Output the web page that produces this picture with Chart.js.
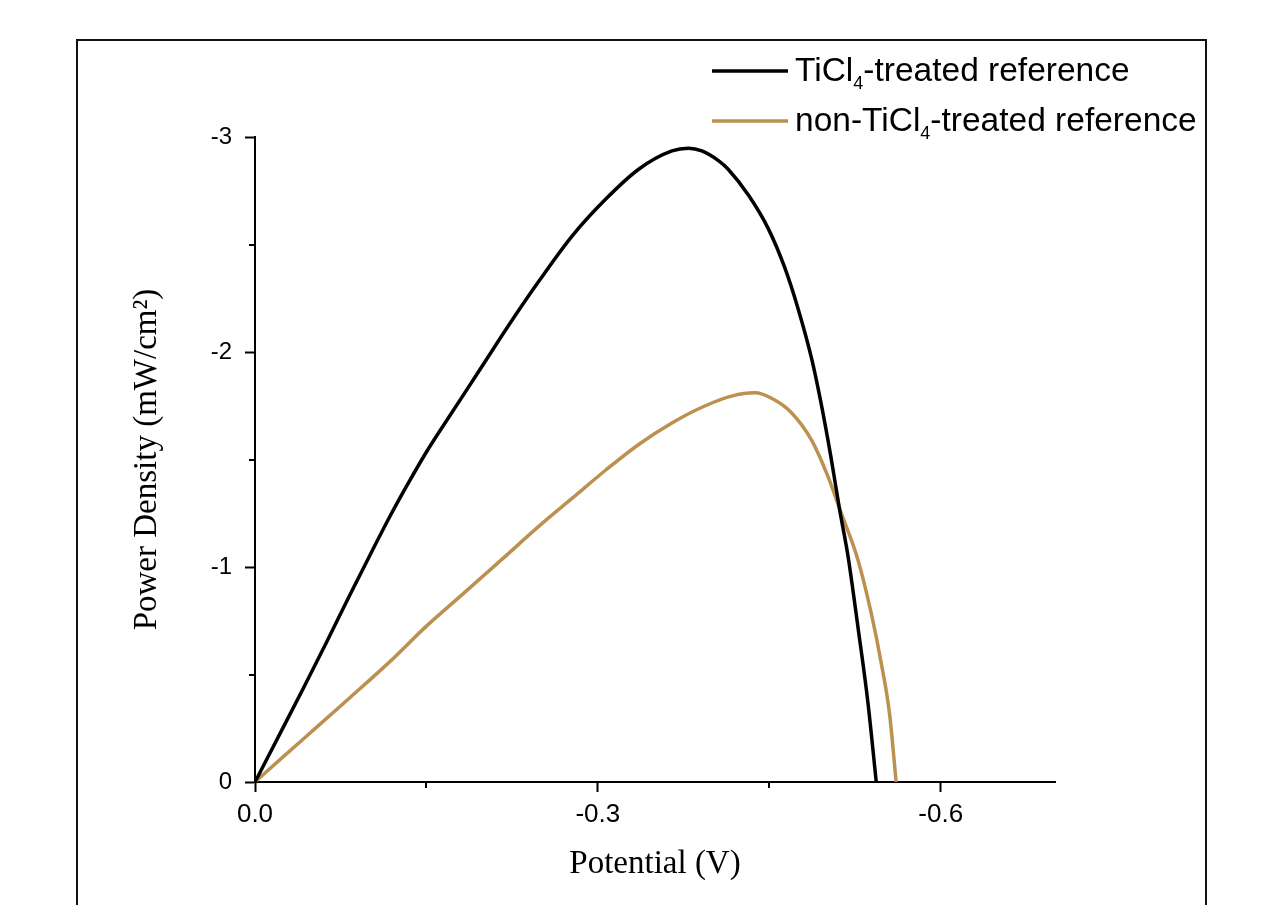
<!DOCTYPE html>
<html>
<head>
<meta charset="utf-8">
<title>Power density vs potential</title>
<script src="https://cdn.jsdelivr.net/npm/chart.js@4/dist/chart.umd.min.js"></script>
<style>
  html, body { margin: 0; padding: 0; background: #fff; }
  #wrap { width: 1263px; height: 905px; }
</style>
</head>
<body>
<div id="wrap"><canvas id="powerChart" width="1263" height="905"></canvas></div>
<script>
// Power density curves
const treatedV = [0, -0.0248, -0.0422, -0.0626, -0.083, -0.102, -0.118, -0.1325, -0.150, -0.170, -0.194, -0.211, -0.229, -0.2485, -0.2776, -0.3067, -0.3357, -0.3648, -0.3793, -0.391, -0.4055, -0.414, -0.4317, -0.449, -0.4637, -0.475, -0.487, -0.495, -0.504, -0.5116, -0.5189, -0.5276, -0.5363, -0.5436];
const treatedP = [0, -0.255, -0.435, -0.65, -0.87, -1.07, -1.235, -1.375, -1.535, -1.70, -1.895, -2.035, -2.18, -2.33, -2.54, -2.71, -2.85, -2.935, -2.948, -2.935, -2.89, -2.85, -2.73, -2.575, -2.39, -2.205, -1.97, -1.77, -1.51, -1.265, -1.05, -0.72, -0.37, 0];

const untreatedV = [0, -0.0248, -0.054, -0.083, -0.118, -0.150, -0.182, -0.217, -0.2485, -0.2776, -0.3067, -0.3357, -0.3648, -0.394, -0.417, -0.4375, -0.452, -0.469, -0.487, -0.5014, -0.5116, -0.5276, -0.5392, -0.548, -0.5552, -0.561];
const untreatedP = [0, -0.118, -0.255, -0.392, -0.56, -0.725, -0.875, -1.04, -1.19, -1.32, -1.45, -1.57, -1.67, -1.75, -1.795, -1.81, -1.785, -1.72, -1.59, -1.42, -1.27, -1.033, -0.785, -0.552, -0.319, 0];

const xMajor = [0, -0.3, -0.6];
const xMinor = [-0.15, -0.45];
const yMajor = [0, -1, -2, -3];
const yMinor = [-0.5, -1.5, -2.5];

const seriesNames = [['TiCl', '4', '-treated reference'], ['non-TiCl', '4', '-treated reference']];
const seriesColors = ['#000000', '#BC9150'];

function toPoints(xs, ys) {
  return xs.map((x, i) => ({ x: x, y: ys[i] }));
}

const sansFont = '"Liberation Sans", Arial, sans-serif';
const serifFont = '"Liberation Serif", "Times New Roman", serif';

// outer frame, minor ticks and the legend with subscripts
const extras = {
  id: 'extras',
  afterDraw(chart) {
    const ctx = chart.ctx;
    const xs = chart.scales.x, ys = chart.scales.y;
    ctx.save();
    ctx.strokeStyle = '#111';
    ctx.lineWidth = 2;
    ctx.strokeRect(77, 40, 1129, 900);

    ctx.strokeStyle = '#000';
    ctx.lineWidth = 2;
    ctx.beginPath();
    xMinor.forEach(v => {
      const px = Math.round(xs.getPixelForValue(v));
      ctx.moveTo(px, xs.top);
      ctx.lineTo(px, xs.top + 6);
    });
    yMinor.forEach(v => {
      const py = Math.round(ys.getPixelForValue(v));
      ctx.moveTo(ys.right, py);
      ctx.lineTo(ys.right - 6, py);
    });
    ctx.stroke();

    // legend
    const lx = 712, ly = [71, 121];
    seriesNames.forEach((parts, i) => {
      ctx.strokeStyle = seriesColors[i];
      ctx.lineWidth = 3.5;
      ctx.beginPath();
      ctx.moveTo(lx, ly[i]);
      ctx.lineTo(lx + 76, ly[i]);
      ctx.stroke();
      ctx.fillStyle = '#000';
      ctx.textBaseline = 'alphabetic';
      let tx = lx + 83;
      const base = ly[i] + 10;
      ctx.font = '33.5px ' + sansFont;
      ctx.fillText(parts[0], tx, base);
      tx += ctx.measureText(parts[0]).width;
      ctx.font = '18px ' + sansFont;
      ctx.fillText(parts[1], tx, base + 8);
      tx += ctx.measureText(parts[1]).width;
      ctx.font = '33.5px ' + sansFont;
      ctx.fillText(parts[2], tx, base);
    });
    ctx.restore();
  }
};

new Chart(document.getElementById('powerChart'), {
  type: 'line',
  data: {
    datasets: [
      {
        label: 'TiCl4-treated reference',
        data: toPoints(treatedV, treatedP),
        borderColor: seriesColors[0],
        borderWidth: 3.5,
        pointRadius: 0,
        cubicInterpolationMode: 'monotone',
        fill: false
      },
      {
        label: 'non-TiCl4-treated reference',
        data: toPoints(untreatedV, untreatedP),
        borderColor: seriesColors[1],
        borderWidth: 3.5,
        pointRadius: 0,
        cubicInterpolationMode: 'monotone',
        fill: false
      }
    ]
  },
  options: {
    responsive: false,
    animation: false,
    layout: { padding: { left: 125, top: 137, right: 208, bottom: 21 } },
    plugins: { legend: { display: false }, tooltip: { enabled: false } },
    scales: {
      x: {
        type: 'linear',
        min: -0.7,
        max: 0,
        reverse: true,
        afterFit: s => { s.height = 102; },
        afterBuildTicks: s => { s.ticks = xMajor.map(v => ({ value: v })); },
        border: { display: true, color: '#000', width: 2 },
        grid: { drawOnChartArea: false, drawTicks: true, tickLength: 10, tickColor: '#000', tickWidth: 2 },
        ticks: {
          color: '#000',
          padding: 7,
          maxRotation: 0,
          font: { family: sansFont, size: 26 },
          callback: v => (v === 0 ? '0.0' : v.toFixed(1))
        },
        title: {
          display: true,
          text: 'Potential (V)',
          color: '#000',
          padding: { top: 0, bottom: 0 },
          font: { family: serifFont, size: 33 }
        }
      },
      y: {
        type: 'linear',
        min: -3,
        max: 0,
        reverse: true,
        afterFit: s => { s.width = 130; },
        afterBuildTicks: s => { s.ticks = yMajor.map(v => ({ value: v })); },
        border: { display: true, color: '#000', width: 2 },
        grid: { drawOnChartArea: false, drawTicks: true, tickLength: 10, tickColor: '#000', tickWidth: 2 },
        ticks: {
          color: '#000',
          padding: 13,
          font: { family: sansFont, size: 24 },
          callback: v => String(v)
        },
        title: {
          display: true,
          text: 'Power Density (mW/cm\u00B2)',
          color: '#000',
          padding: { top: 3, bottom: 0 },
          font: { family: serifFont, size: 33 }
        }
      }
    }
  },
  plugins: [extras]
});
</script>
</body>
</html>
